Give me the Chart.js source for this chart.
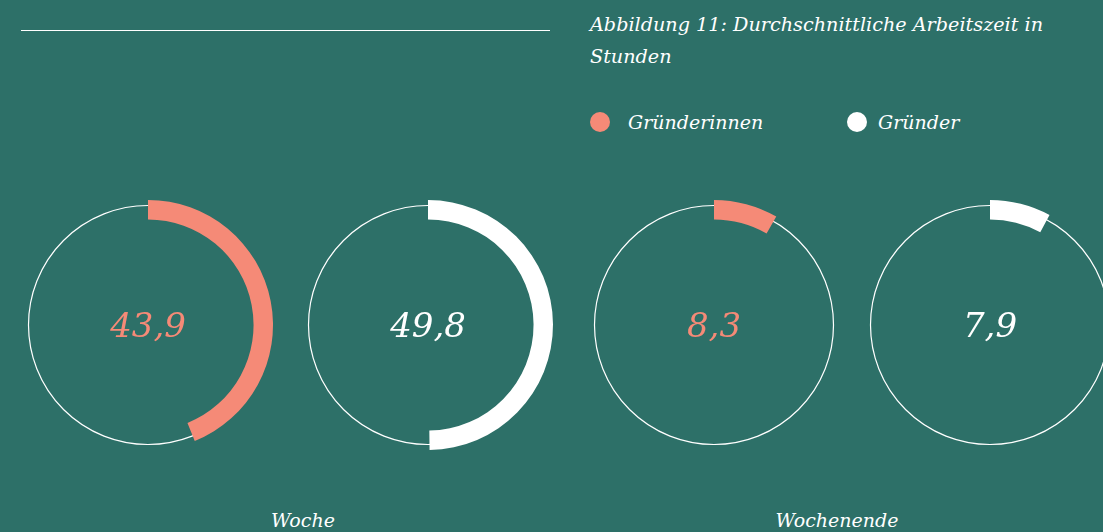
<!DOCTYPE html>
<html lang="de">
  <head>
    <meta charset="UTF-8" />
    <title>Abbildung 11</title>
    <script src="https://cdn.jsdelivr.net/npm/chart.js"></script>
    <style>
      body {
        margin: 0;
        width: 1103px;
        height: 532px;
        background: #2d7068;
        overflow: hidden;
        position: relative;
        font-family: "DejaVu Serif", serif;
        font-style: italic;
        color: #fff;
      }
      .rule {
        position: absolute;
        left: 21px;
        top: 30px;
        width: 529px;
        height: 1px;
        background: #fff;
      }
      .title {
        position: absolute;
        left: 590px;
        top: 9px;
        width: 480px;
        font-size: 19.2px;
        line-height: 32px;
      }
      .legend {
        position: absolute;
        top: 108px;
        font-size: 19px;
        line-height: 28px;
      }
      .legend span.dot {
        display: inline-block;
        width: 20px;
        height: 20px;
        border-radius: 50%;
        vertical-align: -3px;
      }
      .ring {
        position: absolute;
        top: 190px;
      }
      .group {
        position: absolute;
        top: 509px;
        font-size: 19px;
        transform: translateX(-50%);
      }
    </style>
  </head>
  <body>
    <div class="rule"></div>
    <div class="title" id="title"></div>
    <div id="legend"></div>
    <div id="rings"></div>
    <div id="groups"></div>

    <script>
      const titleText = "Abbildung 11: Durchschnittliche Arbeitszeit in Stunden";
      const groups = ["Woche", "Wochenende"];
      const seriesNames = ["Gründerinnen", "Gründer"];
      const seriesColors = ["#f58a77", "#ffffff"];
      const gruenderinnen = [43.9, 8.3];
      const gruender = [49.8, 7.9];
      const scaleMax = 100;

      document.getElementById("title").textContent = titleText;

      // legende
      const legendX = [590, 847];
      const legendGap = [18, 11];
      const legendBox = document.getElementById("legend");
      seriesNames.forEach((name, i) => {
        const d = document.createElement("div");
        d.className = "legend";
        d.style.left = legendX[i] + "px";
        d.innerHTML = '<span class="dot" style="background:' + seriesColors[i] +
          ';margin-right:' + legendGap[i] + 'px"></span>' + name;
        legendBox.appendChild(d);
      });

      // dünner Kreis + Wert in der Mitte
      const ringPlugin = {
        id: "ring",
        beforeDatasetsDraw(chart) {
          const arc = chart.getDatasetMeta(0).data[0];
          const ctx = chart.ctx;
          const r = arc.outerRadius - 5.5;
          ctx.save();
          ctx.beginPath();
          ctx.arc(arc.x, arc.y, r, 0, Math.PI * 2);
          ctx.strokeStyle = "#ffffff";
          ctx.lineWidth = 1.2;
          ctx.stroke();
          ctx.restore();
        },
        afterDatasetsDraw(chart) {
          const arc = chart.getDatasetMeta(0).data[0];
          const ctx = chart.ctx;
          const v = chart.data.datasets[0].data[0];
          ctx.save();
          ctx.font = "italic 34px 'DejaVu Serif'";
          ctx.fillStyle = chart.data.datasets[0].backgroundColor[0];
          ctx.textAlign = "center";
          ctx.textBaseline = "middle";
          ctx.fillText(v.toFixed(1).replace(".", ","), arc.x, arc.y + 3);
          ctx.restore();
        }
      };

      const centers = [148, 428, 714, 990];
      const size = 270;
      const rings = document.getElementById("rings");
      let k = 0;
      groups.forEach((g, gi) => {
        [gruenderinnen, gruender].forEach((series, si) => {
          const cv = document.createElement("canvas");
          cv.className = "ring";
          cv.width = size;
          cv.height = size;
          cv.style.left = centers[k] - size / 2 + "px";
          rings.appendChild(cv);
          const v = series[gi];
          new Chart(cv, {
            type: "doughnut",
            data: {
              labels: [seriesNames[si], ""],
              datasets: [{
                data: [v, scaleMax - v],
                backgroundColor: [seriesColors[si], "rgba(0,0,0,0)"],
                borderWidth: 0
              }]
            },
            options: {
              responsive: false,
              animation: false,
              radius: 125,
              cutout: 114,
              plugins: { legend: { display: false }, tooltip: { enabled: false } }
            },
            plugins: [ringPlugin]
          });
          k++;
        });
      });

      // Gruppen-Beschriftung
      const groupX = [303, 837];
      const groupBox = document.getElementById("groups");
      groups.forEach((g, i) => {
        const d = document.createElement("div");
        d.className = "group";
        d.style.left = groupX[i] + "px";
        d.textContent = g;
        groupBox.appendChild(d);
      });
    </script>
  </body>
</html>
